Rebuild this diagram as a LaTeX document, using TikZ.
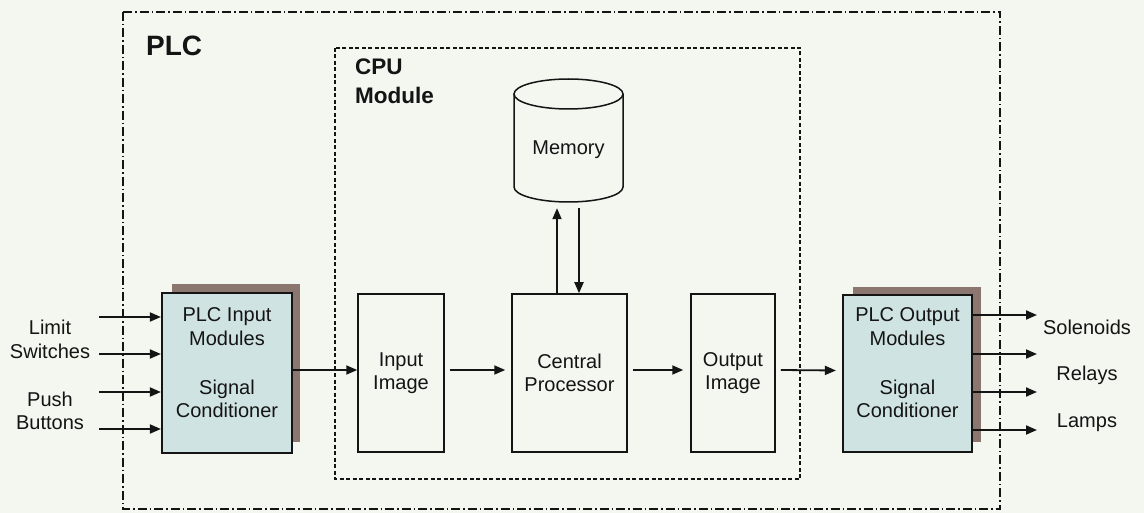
\documentclass[tikz,border=0pt]{standalone}
\usepackage{fontspec}
\setmainfont{Liberation Sans}
\usetikzlibrary{arrows.meta,calc}
\definecolor{bg}{HTML}{F4F6F0}
\definecolor{modfill}{HTML}{CFE4E2}
\definecolor{shadowc}{HTML}{8C7770}
\definecolor{ink}{HTML}{141414}
\tikzset{
  lbl/.style={font=\fontsize{20}{23.5}\selectfont, align=center, text=ink, inner sep=0pt},
  plainbox/.style={draw=ink, line width=1.5pt, fill=none, inner sep=0pt},
  modbox/.style={draw=ink, line width=2.2pt, fill=modfill, inner sep=0pt},
  conn/.style={draw=ink, line width=1.8pt, -{Triangle[length=11pt,width=9pt]}},
  outerbox/.style={draw=ink, line width=1.3pt, dash pattern=on 9pt off 3pt on 1.5pt off 3pt},
  cpubox/.style={draw=ink, line width=1.5pt, dash pattern=on 4pt off 2.5pt},
}
\begin{document}
\begin{tikzpicture}[x=1pt,y=-1pt]
\fill[bg] (0,0) rectangle (1144,513);
\useasboundingbox (0,0) rectangle (1144,513);
% outer PLC box
\draw[outerbox] (123,12) rectangle (1000,509);
\node[anchor=base west, font=\fontsize{28}{30}\selectfont\bfseries, text=ink, inner sep=0pt] (plc) at (146,56) {PLC};
% CPU module box
\draw[cpubox] (335,48) rectangle (800,479);
\node[anchor=north west, font=\fontsize{22.5}{29}\selectfont\bfseries, text=ink, align=left, inner sep=0pt] (cpu) at (355,59) {CPU\\Module};
% memory cylinder
\draw[ink, line width=1.5pt] (514,94) -- (514,187) arc[start angle=180, end angle=0, x radius=54.5, y radius=15] -- (623,94);
\draw[ink, line width=1.5pt] (568.5,94) ellipse[x radius=54.5, y radius=15];
\node[minimum width=109pt, minimum height=93pt, inner sep=0pt] (mem) at (568.5,155.5) {};
\node[lbl] (memtxt) at (568.5,150) {Memory};
% CPU internals
\node[plainbox, minimum width=86pt, minimum height=158pt] (ii) at (401,373) {};
\node[lbl] at (ii.center) {Input\\Image};
\node[plainbox, minimum width=115pt, minimum height=158pt] (cp) at (569.5,373) {};
\node[lbl] at (cp.center) {Central\\Processor};
\node[plainbox, minimum width=84pt, minimum height=158pt] (oi) at (733,373) {};
\node[lbl] at (oi.center) {Output\\Image};
% input module
\fill[shadowc] (172,284) rectangle (300,442);
\node[modbox, minimum width=130pt, minimum height=160pt] (im) at (227,373) {};
\node[lbl] at (227,326.5) {PLC Input\\Modules};
\node[lbl] at (227,399) {Signal\\Conditioner};
% output module
\fill[shadowc] (853,287) rectangle (981,442);
\node[modbox, minimum width=129pt, minimum height=157pt] (om) at (907.5,373.5) {};
\node[lbl] at (907.5,326.5) {PLC Output\\Modules};
\node[lbl] at (907.5,399) {Signal\\Conditioner};
% inputs
\coordinate (i1) at (99,317);
\coordinate (i2) at (99,354);
\coordinate (i3) at (99,392);
\coordinate (i4) at (99,429);
\draw[conn] (i1) -- (i1 -| im.west);
\draw[conn] (i2) -- (i2 -| im.west);
\draw[conn] (i3) -- (i3 -| im.west);
\draw[conn] (i4) -- (i4 -| im.west);
\node[lbl] (ls) at (50,339.5) {Limit\\Switches};
\node[lbl] (pb) at (50,411) {Push\\Buttons};
% outputs
\coordinate (o1) at (1037,315);
\coordinate (o2) at (1037,354);
\coordinate (o3) at (1037,392);
\coordinate (o4) at (1037,430);
\draw[conn] (o1 -| om.east) -- (o1);
\draw[conn] (o2 -| om.east) -- (o2);
\draw[conn] (o3 -| om.east) -- (o3);
\draw[conn] (o4 -| om.east) -- (o4);
\node[lbl] (sol) at (1087,327) {Solenoids};
\node[lbl] (rel) at (1087,375) {Relays};
\node[lbl] (lam) at (1087,423) {Lamps};
% flow
\draw[conn] ($(im.east)+(0,-3)$) -- ($(ii.west)+(0,-3)$);
\draw[conn] ($(ii.east)+(5,-3)$) -- ($(cp.west)+(-6,-3)$);
\draw[conn] ($(cp.east)+(5,-3)$) -- ($(oi.west)+(-7,-3)$);
\draw[conn] ($(oi.east)+(5,-3)$) -- ($(om.west)+(-6,-3)$);
% memory links
\draw[conn] ($(cp.north)+(-12.5,0)$) -- ($(mem.south)+(-11.5,6)$);
\draw[conn] ($(mem.south)+(10.5,6)$) -- ($(cp.north)+(9.5,0)$);
\end{tikzpicture}
\end{document}
